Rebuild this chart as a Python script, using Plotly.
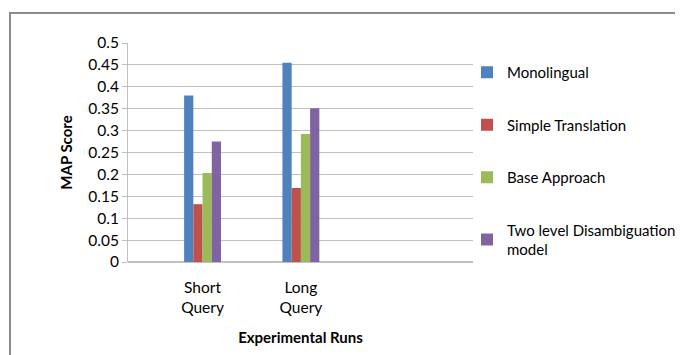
import plotly.graph_objects as go

categories = ["Short<br>Query", "Long<br>Query"]
series_names = ["Monolingual", "Simple Translation", "Base Approach", "Two level Disambiguation<br>model"]
monolingual = [0.380, 0.455]
simple_translation = [0.132, 0.169]
base_approach = [0.203, 0.292]
two_level = [0.275, 0.351]
colors = ["#4F81BD", "#C0504D", "#9BBB59", "#8064A2"]
y_ticks = [0, 0.05, 0.1, 0.15, 0.2, 0.25, 0.3, 0.35, 0.4, 0.45, 0.5]
y_ticktext = ["0", "0.05", "0.1", "0.15", "0.2", "0.25", "0.3", "0.35", "0.4", "0.45", "0.5"]

FONT = "Lato"
OFF = 8  # page body margin
W, H = 683 - OFF, 355 - OFF
L, R, T, B = 128 - OFF, 473 - OFF, 43 - OFF, 262 - OFF

fig = go.Figure()
for i, (name, vals) in enumerate(zip(series_names, [monolingual, simple_translation, base_approach, two_level])):
    fig.add_trace(go.Bar(x=categories, y=vals, name=name, marker_color=colors[i],
                         marker_line_width=0, legendgroup=f"g{i}"))

def px_x(p):
    return (p - OFF - L) / (R - L)

def px_y(p):
    return (B - (p - OFF)) / (B - T)

border = dict(type="line", xref="paper", yref="paper", line=dict(color="#8C8C8C", width=2))
fig.add_shape(**border, x0=px_x(10), x1=px_x(10), y0=px_y(13), y1=px_y(360))
fig.add_shape(**border, x0=px_x(9), x1=px_x(690), y0=px_y(13), y1=px_y(13))

fig.update_layout(
    width=W, height=H,
    margin=dict(l=L, r=W - R, t=T, b=H - B, autoexpand=False),
    paper_bgcolor="white", plot_bgcolor="white",
    barmode="group", bargap=0.625, bargroupgap=0,
    font=dict(family=FONT, size=15, color="#000000"),
    showlegend=True,
    legend=dict(x=px_x(467), y=px_y(56), xanchor="left", yanchor="top",
                traceorder="grouped", tracegroupgap=30,
                font=dict(family=FONT, size=15), itemwidth=30,
                bgcolor="rgba(0,0,0,0)"),
    xaxis=dict(type="category", range=[-0.758, 2.75], showgrid=False,
               showline=False, ticks="", tickfont=dict(family=FONT, size=15.5),
               ticklabelstandoff=14,
               title=dict(text="<b>Experimental Runs</b>", font=dict(family=FONT, size=15), standoff=17),
               fixedrange=True),
    yaxis=dict(range=[0, 0.5], tickvals=y_ticks, ticktext=y_ticktext,
               showgrid=True, gridcolor="#BFBFBF", gridwidth=1,
               showline=True, linecolor="#BFBFBF", linewidth=1,
               ticks="outside", ticklen=5, tickcolor="#BFBFBF",
               zeroline=True, zerolinecolor="#BFBFBF",
               tickfont=dict(family=FONT, size=15.5),
               title=dict(text="<b>MAP Score</b>", font=dict(family=FONT, size=15), standoff=12)),
)

fig.write_html("out.html")
